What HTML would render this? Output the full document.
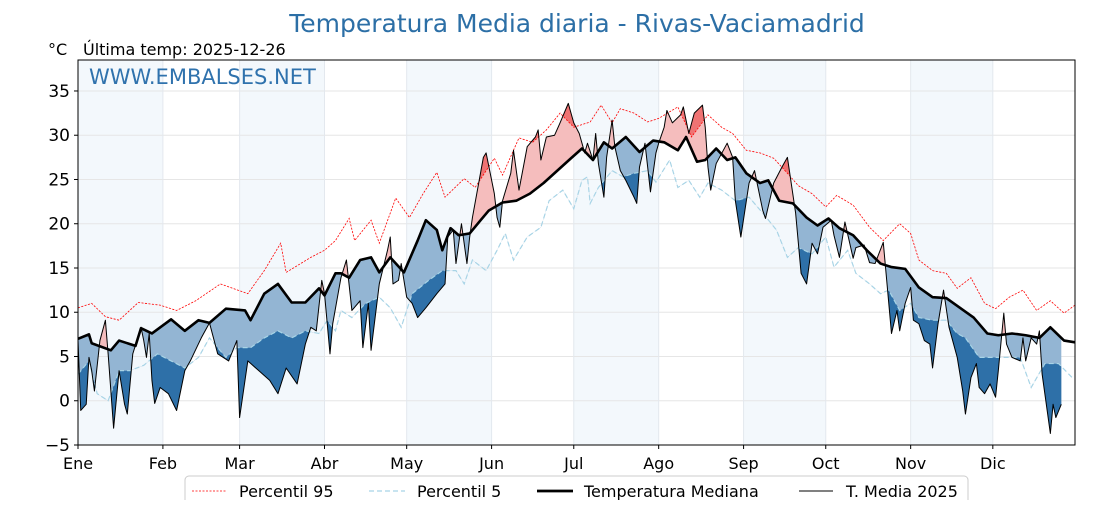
<!DOCTYPE html>
<html><head><meta charset="utf-8"><style>
body{margin:0;background:#fff;width:1120px;height:500px;overflow:hidden;font-family:"Liberation Sans","DejaVu Sans",sans-serif;}
svg text{font-family:"DejaVu Sans","Liberation Sans",sans-serif;}
</style></head><body>
<svg id="chart" width="1120" height="500" xmlns="http://www.w3.org/2000/svg">
<text x="577" y="32" text-anchor="middle" font-size="25" fill="#2c6fa6">Temperatura Media diaria - Rivas-Vaciamadrid</text>
<text x="48" y="55" font-size="16" fill="#000">°C</text>
<text x="83" y="55" font-size="16" fill="#000">Última temp: 2025-12-26</text>
<g id="plot"></g>
<text x="89" y="84" font-size="21" fill="#2f72ad">WWW.EMBALSES.NET</text>
<g>
<rect x="185" y="476" width="783" height="40" rx="4" fill="#fff" stroke="#ccc"/>
<g><line x1="192" y1="491" x2="226" y2="491" stroke="#f00" stroke-width="0.8" stroke-dasharray="2,1.5"/><text x="239" y="497" font-size="16">Percentil 95</text></g>
<g><line x1="369" y1="491" x2="405" y2="491" stroke="#a8d4e6" stroke-width="1.2" stroke-dasharray="5,3"/><text x="417" y="497" font-size="16">Percentil 5</text></g>
<g><line x1="537" y1="491" x2="573" y2="491" stroke="#000" stroke-width="2.8"/><text x="584" y="497" font-size="16">Temperatura Mediana</text></g>
<g><line x1="799" y1="491" x2="833" y2="491" stroke="#000" stroke-width="1"/><text x="846" y="497" font-size="16">T. Media 2025</text></g>
</g>
</svg>
<script>
const monthLabels=["Ene","Feb","Mar","Abr","May","Jun","Jul","Ago","Sep","Oct","Nov","Dic"];
const monthStarts=[0,31,59,90,120,151,181,212,243,273,304,334];
const yTicks=[-5,0,5,10,15,20,25,30,35];
const medDays=[0,4,5,12,15,21,23,27,34,39,44,48,54,61,63,68,73,78,83,88,90,94,96,99,103,107,110,114,119,124,127,131,133,136,139,143,147,150,155,160,165,170,175,180,184,188,192,195,200,205,210,214,219,222,226,229,233,237,240,244,249,252,256,261,266,270,274,278,283,288,293,297,302,307,312,317,322,327,332,336,341,346,351,355,360,364];
const medVals=[7.0,7.5,6.5,5.7,6.8,6.2,8.2,7.6,9.2,7.9,9.1,8.8,10.4,10.2,9.1,12.1,13.2,11.1,11.1,12.7,11.9,14.4,14.4,13.9,15.9,16.2,14.5,16.2,14.5,18.1,20.4,19.3,17.0,19.5,18.7,18.9,20.4,21.5,22.4,22.6,23.4,24.6,26.0,27.4,28.5,27.2,29.2,28.5,29.8,28.1,29.4,29.2,28.3,29.8,27.0,27.2,28.5,27.2,27.5,25.7,24.6,24.9,22.6,22.3,20.7,19.8,20.6,19.5,18.7,17.0,15.5,15.1,14.9,12.8,11.7,11.6,10.5,9.4,7.6,7.4,7.6,7.4,7.1,8.3,6.8,6.6];
const p95Days=[0,5,10,15,22,30,36,43,52,62,68,74,76,85,90,94,99,101,107,110,116,121,126,131,134,141,145,152,155,161,166,171,176,181,187,191,195,198,203,208,212,219,224,230,235,239,244,249,254,259,263,268,273,277,283,289,294,300,304,307,312,317,321,326,331,335,340,345,350,355,360,364];
const p95Vals=[10.5,11.0,9.5,9.1,11.1,10.8,10.2,11.3,13.2,12.1,14.7,17.8,14.5,16.2,17.0,18.1,20.6,18.1,20.4,17.8,22.9,20.7,23.4,25.8,23.0,25.1,24.1,27.4,25.5,29.7,29.2,30.6,32.5,30.9,31.5,33.4,31.4,33.0,32.5,31.5,31.9,33.2,29.8,32.3,30.9,30.2,28.3,28.0,27.4,25.7,24.3,23.4,21.9,23.2,22.1,19.6,18.1,20.0,18.9,15.9,14.7,14.4,12.7,13.9,11.0,10.4,11.7,12.5,10.2,11.3,9.9,10.8];
const p5Days=[0,4,7,11,15,19,24,29,34,39,44,48,54,58,63,68,73,78,83,88,91,94,96,100,105,110,114,118,122,128,133,138,141,144,149,153,156,159,164,169,172,177,181,184,186,187,190,195,199,203,208,211,216,219,223,227,230,235,240,245,250,255,259,263,268,273,276,281,284,289,293,296,300,304,307,312,317,321,324,329,334,339,344,348,353,358,363];
const p5Vals=[3.0,4.5,0.8,0.0,3.4,3.4,4.0,5.3,4.5,3.7,4.9,7.1,4.9,6.0,6.0,7.1,7.9,7.1,7.9,7.6,9.1,7.9,10.2,9.4,11.0,11.7,10.5,8.3,12.1,13.6,14.7,14.7,13.2,15.9,14.7,17.0,18.9,15.9,18.5,19.6,22.6,23.8,21.7,24.9,25.3,22.3,24.1,26.0,25.3,25.7,26.0,24.7,27.2,24.1,24.9,23.0,24.6,23.8,22.6,23.0,21.2,19.3,16.2,17.3,16.6,18.5,15.1,17.0,14.4,13.2,12.1,12.5,10.2,11.0,9.4,9.1,9.1,7.6,7.1,4.9,4.9,4.9,4.9,1.5,4.2,4.2,2.6];
const tDays=[0,1,3,4,5,6,8,10,11,13,15,17,18,20,23,24,25,26,27,28,30,33,36,39,41,45,48,51,55,58,59,62,66,70,73,76,80,83,85,87,89,90,92,93,96,98,100,103,104,106,107,110,113,114,115,117,118,120,122,124,127,131,134,135,137,138,140,142,143,144,148,149,152,153,154,155,158,159,161,164,167,168,169,171,174,176,179,181,183,185,186,188,189,190,192,193,195,196,198,200,203,204,205,207,209,211,212,214,215,217,220,221,223,225,228,229,230,231,233,237,239,240,242,245,247,250,251,254,257,259,262,264,266,268,270,272,275,276,278,280,283,284,287,289,291,294,297,299,300,302,304,305,307,309,311,312,314,316,318,321,323,324,326,328,329,331,333,335,336,338,339,341,344,345,346,348,350,351,352,355,356,357,359];
const tVals=[6.8,-1.1,-0.4,4.9,3.4,1.1,6.8,9.1,5.3,-3.1,3.4,-0.4,-1.5,5.3,8.3,6.8,4.9,7.6,2.3,-0.3,1.5,0.8,-1.1,3.4,4.5,7.1,8.8,5.3,4.5,6.8,-1.9,4.5,3.4,2.3,0.8,3.7,1.9,6.4,8.3,7.9,13.6,12.1,5.3,8.7,13.9,15.9,10.2,11.3,6.0,11.0,5.7,13.2,17.0,18.5,13.2,13.6,15.5,11.7,11.0,9.4,10.5,12.1,13.2,18.5,19.3,15.5,20.0,15.5,18.5,20.7,27.5,28.0,23.4,20.7,19.6,22.6,25.7,28.3,23.8,28.7,29.8,30.6,27.2,29.8,30.0,31.4,33.6,31.4,30.2,28.0,29.1,27.2,30.2,26.8,23.0,27.5,31.7,28.7,26.0,24.9,23.0,22.3,26.4,29.1,23.6,28.0,29.1,30.9,32.8,31.4,32.3,33.2,30.2,32.5,33.4,30.9,26.4,23.8,26.8,29.1,27.5,22.6,18.5,24.6,26.0,21.5,20.6,24.6,26.4,27.5,21.2,14.4,13.2,17.8,16.6,19.6,20.4,18.7,16.2,20.2,16.1,17.3,17.6,15.6,15.5,17.9,7.6,10.2,7.9,11.0,12.8,9.1,8.7,6.8,6.4,3.7,8.7,12.5,8.3,4.9,1.1,-1.5,2.6,4.2,1.5,0.8,1.9,0.4,3.4,9.9,6.4,4.9,4.5,7.1,4.5,7.1,6.4,7.9,3.0,-3.7,-0.4,-1.9,-0.4];

const NS="http://www.w3.org/2000/svg";
const L=78,R=1075,T=60,B=445,D0=0,D1=364,Y0=-5,Y1=38.5;
const xs=d=>L+(d-D0)*(R-L)/(D1-D0);
const ys=v=>B-(v-Y0)*(B-T)/(Y1-Y0);
const plot=document.getElementById('plot');
function mk(tag,attrs,parent){const e=document.createElementNS(NS,tag);for(const k in attrs)e.setAttribute(k,attrs[k]);(parent||plot).appendChild(e);return e;}
function interp(days,vals,d){if(d<=days[0])return vals[0];for(let i=1;i<days.length;i++){if(d<=days[i]){const t=(d-days[i-1])/(days[i]-days[i-1]);return vals[i-1]+t*(vals[i]-vals[i-1]);}}return vals[vals.length-1];}
function linePts(days,vals){return days.map((d,i)=>xs(d).toFixed(2)+','+ys(vals[i]).toFixed(2)).join(' ');}

mk('rect',{x:L,y:T,width:R-L,height:B-T,fill:'#fff'});
for(let m=0;m<12;m+=2){const s=monthStarts[m],e=m+1<12?monthStarts[m+1]:D1;
const b=mk('rect',{x:xs(s),y:T,width:xs(e)-xs(s),height:B-T,fill:'#f3f8fc'});

}
yTicks.forEach(v=>{const g=mk('line',{x1:L,x2:R,y1:ys(v),y2:ys(v),stroke:'#e6e6e6','stroke-width':1});


const t=mk('text',{x:L-8,y:ys(v)+6,'text-anchor':'end','font-size':17,fill:'#000'});


t.textContent=v<0?'\u2212'+Math.abs(v):v;
mk('line',{x1:L-4,x2:L,y1:ys(v),y2:ys(v),stroke:'#000'});});
monthStarts.forEach((d,i)=>{const g=mk('line',{x1:xs(d),x2:xs(d),y1:T,y2:B,stroke:'#e3e8ee','stroke-width':1});


mk('line',{x1:xs(d),x2:xs(d),y1:B,y2:B+4,stroke:'#000'});
const t=mk('text',{x:xs(d),y:B+24,'text-anchor':'middle','font-size':16,fill:'#000'});


t.textContent=monthLabels[i];});

const defs=mk('defs',{});
const tStart=tDays[0],tEnd=tDays[tDays.length-1],step=0.25;
const grid=[];for(let d=tStart;d<=tEnd+1e-9;d+=step)grid.push(d);
function clipFor(id,days,vals,above){const c=mk('clipPath',{id:id},defs);
let pts=[];for(let d=D0;d<=D1;d+=step)pts.push(xs(d)+','+ys(interp(days,vals,d)));
const yy=above?T-10:B+10;pts.push(xs(D1)+','+yy,xs(D0)+','+yy);
mk('polygon',{points:pts.join(' ')},c);}
clipFor('cMedUp',medDays,medVals,true);clipFor('cMedDn',medDays,medVals,false);
clipFor('cP95Up',p95Days,p95Vals,true);clipFor('cP5Dn',p5Days,p5Vals,false);
function band(days,vals){const a=grid.map(d=>xs(d)+','+ys(interp(tDays,tVals,d)));
const b=grid.slice().reverse().map(d=>xs(d)+','+ys(interp(days,vals,d)));return a.concat(b).join(' ');}
const f1=mk('polygon',{points:band(medDays,medVals),fill:'#f5bdbd','clip-path':'url(#cMedUp)'});


const f2=mk('polygon',{points:band(medDays,medVals),fill:'#93b5d3','clip-path':'url(#cMedDn)'});


const f3=mk('polygon',{points:band(p95Days,p95Vals),fill:'#ef7373','clip-path':'url(#cP95Up)'});


const f4=mk('polygon',{points:band(p5Days,p5Vals),fill:'#2e70a8','clip-path':'url(#cP5Dn)'});



const l1=mk('polyline',{points:linePts(p95Days,p95Vals),fill:'none',stroke:'#f00','stroke-width':0.8,'stroke-dasharray':'2,1.5'});


const l2=mk('polyline',{points:linePts(p5Days,p5Vals),fill:'none',stroke:'#a8d4e6','stroke-width':1.2,'stroke-dasharray':'5,3'});


const l3=mk('polyline',{points:linePts(medDays,medVals),fill:'none',stroke:'#000','stroke-width':2.6,'stroke-linejoin':'round'});


const l4=mk('polyline',{points:linePts(tDays,tVals),fill:'none',stroke:'#000','stroke-width':1,'stroke-linejoin':'round'});


const fr=mk('rect',{x:L,y:T,width:R-L,height:B-T,fill:'none',stroke:'#000','stroke-width':1});


</script>
</body></html>
